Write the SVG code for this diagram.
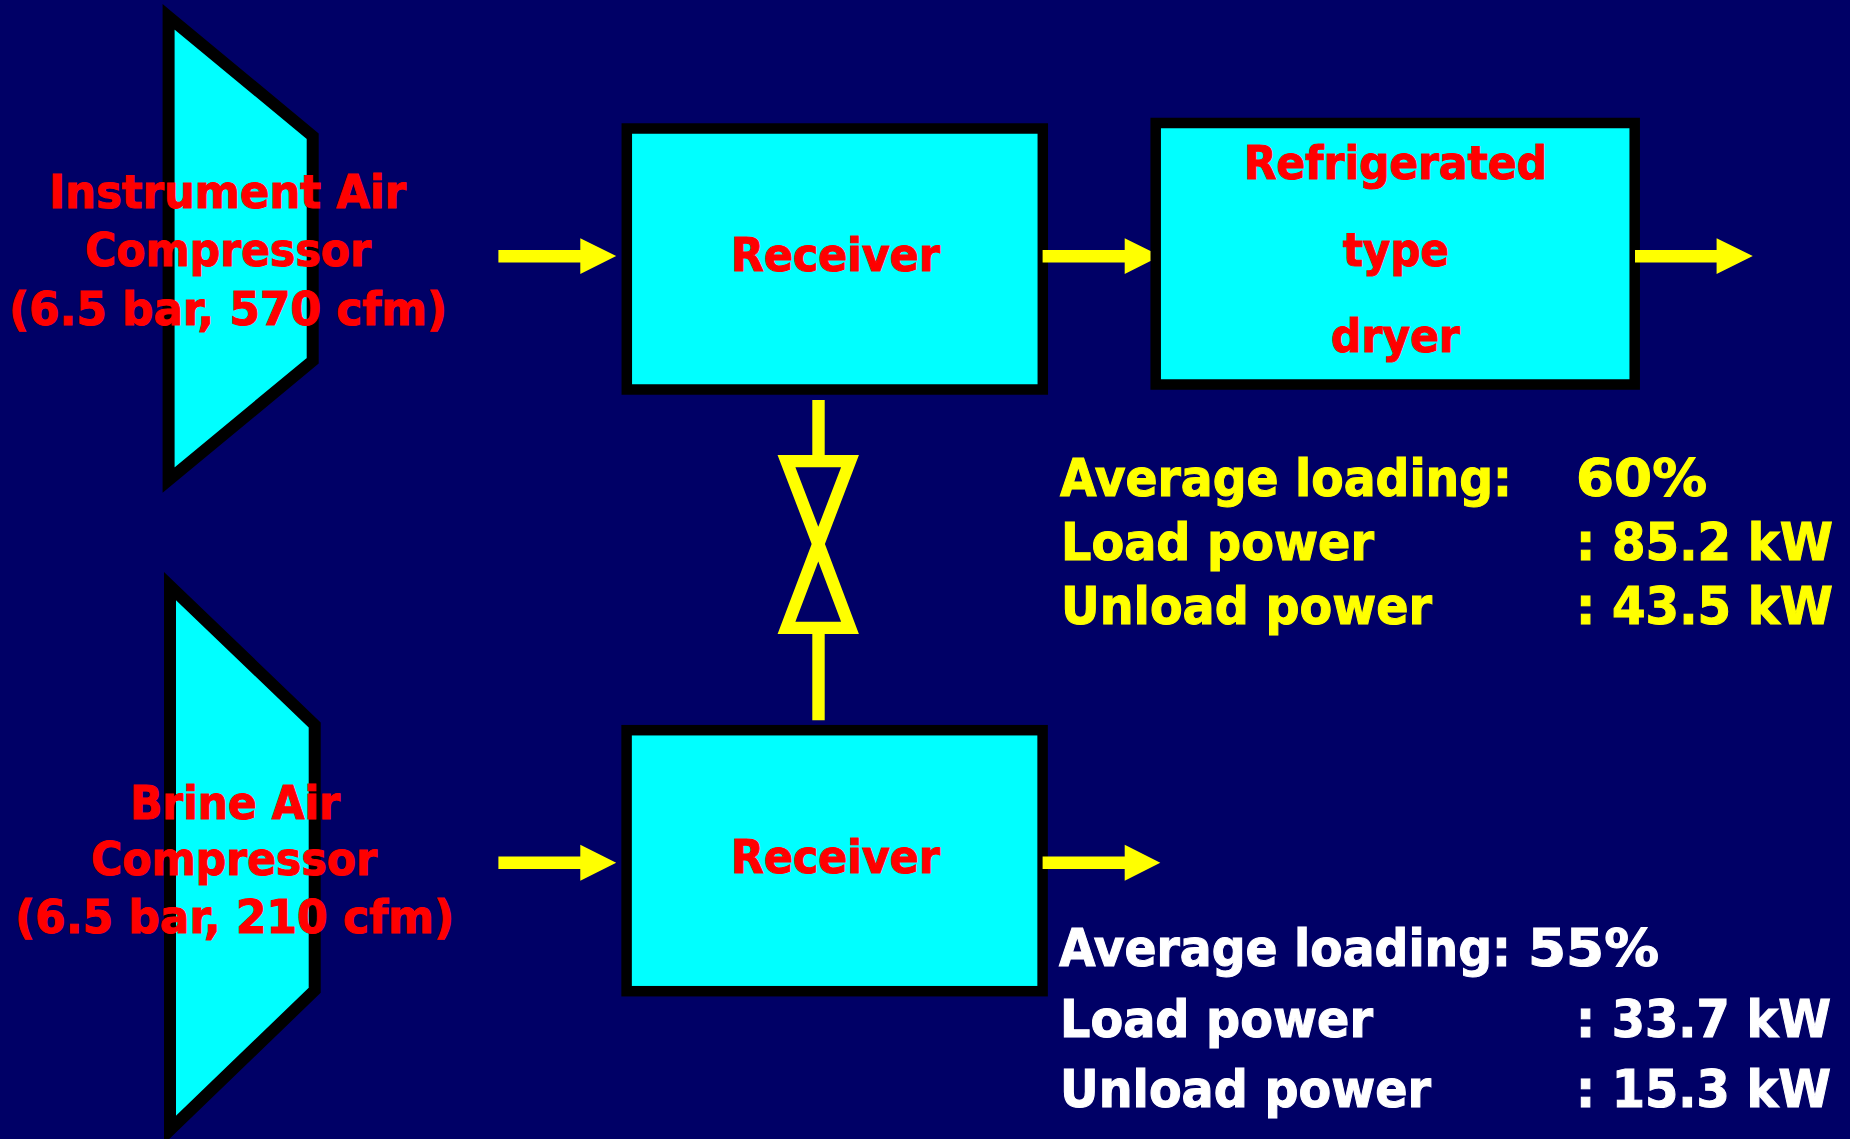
<svg xmlns="http://www.w3.org/2000/svg" width="1850" height="1139" viewBox="0 0 1850 1139">
<style>
.shape{fill:#00ffff;stroke:#000;stroke-width:12;stroke-miterlimit:20}
.box{fill:#00ffff;stroke:#000;stroke-width:10.5}
.valve{fill:none;stroke:#ffff00;stroke-width:12.3;stroke-miterlimit:20}
.stem{stroke:#ffff00;stroke-width:12.4;fill:none}
.ar{fill:#ffff00}
text{font-family:"DejaVu Sans",sans-serif;font-weight:700;font-stretch:condensed;stroke-width:1}
.lbl{fill:#ff0000;stroke:#ff0000;font-size:47px}
.y{fill:#ffff00;stroke:#ffff00;font-size:52px}
.w{fill:#ffffff;stroke:#ffffff;font-size:52px}
</style>
<rect width="1850" height="1139" fill="#000066"/>
<g id="compressor-1">
<polygon class="shape" points="168.6,16.8 312.7,136.2 312.7,360.8 168.6,480"/>
<text class="lbl" x="49" y="208" textLength="357" lengthAdjust="spacingAndGlyphs">Instrument Air</text>
<text class="lbl" x="85" y="265.5" textLength="286" lengthAdjust="spacingAndGlyphs">Compressor</text>
<text class="lbl" x="9" y="324.5" textLength="438" lengthAdjust="spacingAndGlyphs">(6.5 bar, 570 cfm)</text>
</g>
<g id="compressor-2">
<polygon class="shape" points="170,586.1 314.7,725 314.7,990.3 170,1129.9"/>
<text class="lbl" x="130" y="818.5" textLength="210" lengthAdjust="spacingAndGlyphs">Brine Air</text>
<text class="lbl" x="91" y="875" textLength="286" lengthAdjust="spacingAndGlyphs">Compressor</text>
<text class="lbl" x="15" y="933" textLength="439" lengthAdjust="spacingAndGlyphs">(6.5 bar, 210 cfm)</text>
</g>
<g id="receiver-1">
<rect class="box" x="626.8" y="128.5" width="416" height="261"/>
<text class="lbl" x="731" y="271" textLength="209" lengthAdjust="spacingAndGlyphs">Receiver</text>
</g>
<g id="receiver-2">
<rect class="box" x="626.6" y="730.2" width="416" height="261"/>
<text class="lbl" x="731" y="873" textLength="209" lengthAdjust="spacingAndGlyphs">Receiver</text>
</g>
<g id="dryer">
<rect class="box" x="1155.7" y="123" width="479" height="261.5"/>
<text class="lbl" x="1244" y="179" textLength="303" lengthAdjust="spacingAndGlyphs">Refrigerated</text>
<text class="lbl" x="1343" y="266" textLength="106" lengthAdjust="spacingAndGlyphs">type</text>
<text class="lbl" x="1331" y="352" textLength="129" lengthAdjust="spacingAndGlyphs">dryer</text>
</g>
<g id="connectors">
<polygon class="ar" points="498.4,250 580.3,250 580.3,238.3 616.2,256 580.3,274 580.3,262.4 498.4,262.4"/>
<polygon class="ar" points="1042.6,250 1124.7,250 1124.7,238.3 1150.5,251 1150.5,261 1124.7,274 1124.7,262.4 1042.6,262.4"/>
<polygon class="ar" points="1635,250 1716.6,250 1716.6,238.3 1752.8,256 1716.6,274 1716.6,262.4 1635,262.4"/>
<polygon class="ar" points="498.4,856.5 580.3,856.5 580.3,844.7 616.2,862.7 580.3,880.7 580.3,869 498.4,869"/>
<polygon class="ar" points="1042.6,856.5 1124.7,856.5 1124.7,844.7 1160.3,862.7 1124.7,880.7 1124.7,869 1042.6,869"/>
<line class="stem" x1="818.5" y1="400" x2="818.5" y2="461"/>
<line class="stem" x1="818.5" y1="628" x2="818.5" y2="720.3"/>
</g>
<g id="valve">
<polygon class="valve" points="786.5,461.2 850,461.2 818.3,544"/>
<polygon class="valve" points="786.5,627.9 850,627.9 818.3,544"/>
</g>
<g id="notes-1">
<text class="y" x="1060" y="496" textLength="452" lengthAdjust="spacingAndGlyphs">Average loading:</text>
<text class="y" x="1576" y="496" textLength="131" lengthAdjust="spacingAndGlyphs">60%</text>
<text class="y" x="1061" y="560" textLength="313" lengthAdjust="spacingAndGlyphs">Load power</text>
<text class="y" x="1576" y="560" textLength="257" lengthAdjust="spacingAndGlyphs">: 85.2 kW</text>
<text class="y" x="1061" y="624" textLength="371" lengthAdjust="spacingAndGlyphs">Unload power</text>
<text class="y" x="1576" y="624" textLength="257" lengthAdjust="spacingAndGlyphs">: 43.5 kW</text>
</g>
<g id="notes-2">
<text class="w" x="1059" y="966" textLength="452" lengthAdjust="spacingAndGlyphs">Average loading:</text>
<text class="w" x="1528" y="966" textLength="131" lengthAdjust="spacingAndGlyphs">55%</text>
<text class="w" x="1060" y="1036.5" textLength="313" lengthAdjust="spacingAndGlyphs">Load power</text>
<text class="w" x="1576" y="1036.5" textLength="255" lengthAdjust="spacingAndGlyphs">: 33.7 kW</text>
<text class="w" x="1060" y="1107" textLength="371" lengthAdjust="spacingAndGlyphs">Unload power</text>
<text class="w" x="1576" y="1107" textLength="255" lengthAdjust="spacingAndGlyphs">: 15.3 kW</text>
</g>
</svg>
